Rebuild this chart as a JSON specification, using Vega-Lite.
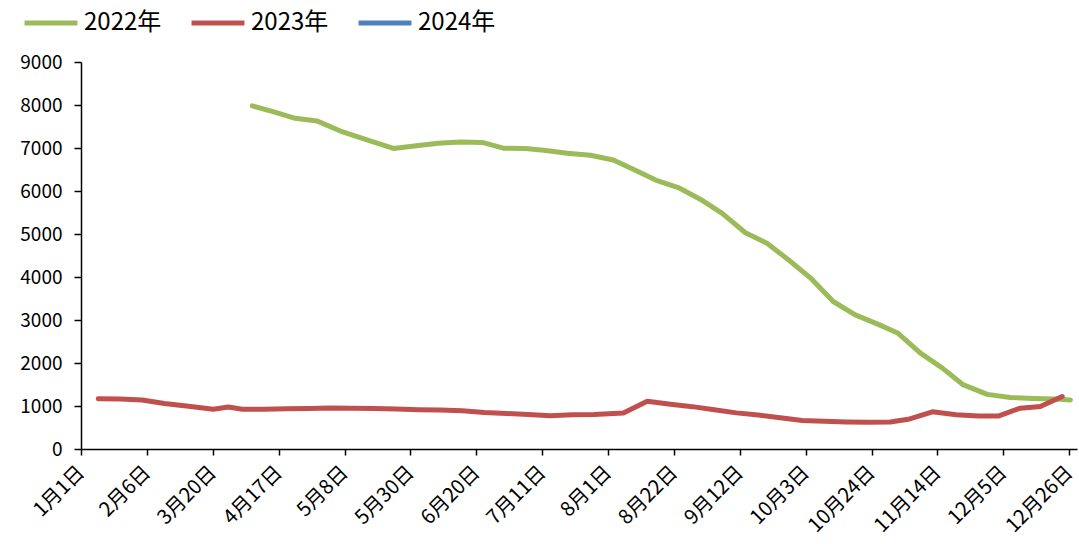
{
  "$schema": "https://vega.github.io/schema/vega-lite/v6.json",
  "autosize": {"type": "none"},
  "width": 996,
  "height": 387,
  "padding": {"left": 81, "top": 62, "right": 2, "bottom": 95},
  "background": "white",
  "config": {
    "view": {"stroke": null},
    "font": "Noto Sans CJK SC",
    "axis": {"labelFont": "Noto Sans CJK SC", "labelColor": "#000000", "domainColor": "#000000", "tickColor": "#000000", "domainWidth": 1.5, "tickWidth": 1.5, "grid": false}
  },
  "data": {
    "values": [
      {"series": "2022年", "t": 54.6, "value": 7980},
      {"series": "2022年", "t": 61.5, "value": 7840},
      {"series": "2022年", "t": 68.3, "value": 7690},
      {"series": "2022年", "t": 75.2, "value": 7630},
      {"series": "2022年", "t": 82.7, "value": 7395},
      {"series": "2022年", "t": 91.2, "value": 7190},
      {"series": "2022年", "t": 99.6, "value": 6990},
      {"series": "2022年", "t": 106.9, "value": 7050},
      {"series": "2022年", "t": 113.9, "value": 7110},
      {"series": "2022年", "t": 120.9, "value": 7140},
      {"series": "2022年", "t": 127.9, "value": 7130},
      {"series": "2022年", "t": 134.6, "value": 6995},
      {"series": "2022年", "t": 141.6, "value": 6990},
      {"series": "2022年", "t": 148.3, "value": 6940},
      {"series": "2022年", "t": 155.0, "value": 6880},
      {"series": "2022年", "t": 162.4, "value": 6830},
      {"series": "2022年", "t": 169.7, "value": 6720},
      {"series": "2022年", "t": 176.7, "value": 6480},
      {"series": "2022年", "t": 183.7, "value": 6240},
      {"series": "2022年", "t": 190.4, "value": 6080},
      {"series": "2022年", "t": 197.4, "value": 5810},
      {"series": "2022年", "t": 204.4, "value": 5480},
      {"series": "2022年", "t": 211.8, "value": 5030},
      {"series": "2022年", "t": 218.8, "value": 4780},
      {"series": "2022年", "t": 225.5, "value": 4400},
      {"series": "2022年", "t": 232.5, "value": 3980},
      {"series": "2022年", "t": 239.8, "value": 3430},
      {"series": "2022年", "t": 246.8, "value": 3120},
      {"series": "2022年", "t": 253.8, "value": 2910},
      {"series": "2022年", "t": 260.5, "value": 2690},
      {"series": "2022年", "t": 267.6, "value": 2230},
      {"series": "2022年", "t": 274.6, "value": 1880},
      {"series": "2022年", "t": 281.3, "value": 1490},
      {"series": "2022年", "t": 288.9, "value": 1270},
      {"series": "2022年", "t": 296.2, "value": 1200},
      {"series": "2022年", "t": 303.6, "value": 1175},
      {"series": "2022年", "t": 310.6, "value": 1160},
      {"series": "2022年", "t": 315.4, "value": 1140},
      {"series": "2023年", "t": 5.5, "value": 1170},
      {"series": "2023年", "t": 12.5, "value": 1160},
      {"series": "2023年", "t": 19.5, "value": 1140},
      {"series": "2023年", "t": 26.6, "value": 1060},
      {"series": "2023年", "t": 33.6, "value": 1000},
      {"series": "2023年", "t": 42.2, "value": 925},
      {"series": "2023年", "t": 47.0, "value": 975},
      {"series": "2023年", "t": 51.4, "value": 925},
      {"series": "2023年", "t": 58.4, "value": 925},
      {"series": "2023年", "t": 65.4, "value": 935},
      {"series": "2023年", "t": 72.5, "value": 940},
      {"series": "2023年", "t": 79.5, "value": 955},
      {"series": "2023年", "t": 86.5, "value": 945},
      {"series": "2023年", "t": 93.5, "value": 940},
      {"series": "2023年", "t": 100.5, "value": 930},
      {"series": "2023年", "t": 107.5, "value": 915},
      {"series": "2023年", "t": 114.5, "value": 905},
      {"series": "2023年", "t": 121.5, "value": 890},
      {"series": "2023年", "t": 128.6, "value": 850},
      {"series": "2023年", "t": 135.6, "value": 825},
      {"series": "2023年", "t": 142.6, "value": 805},
      {"series": "2023年", "t": 149.6, "value": 775},
      {"series": "2023年", "t": 156.6, "value": 795},
      {"series": "2023年", "t": 163.6, "value": 805},
      {"series": "2023年", "t": 172.9, "value": 840},
      {"series": "2023年", "t": 180.5, "value": 1110},
      {"series": "2023年", "t": 187.9, "value": 1040},
      {"series": "2023年", "t": 194.9, "value": 985},
      {"series": "2023年", "t": 201.9, "value": 915},
      {"series": "2023年", "t": 208.9, "value": 840},
      {"series": "2023年", "t": 215.9, "value": 790},
      {"series": "2023年", "t": 222.9, "value": 725},
      {"series": "2023年", "t": 229.9, "value": 665},
      {"series": "2023年", "t": 236.9, "value": 645},
      {"series": "2023年", "t": 244.0, "value": 630},
      {"series": "2023年", "t": 251.0, "value": 620},
      {"series": "2023年", "t": 258.0, "value": 630},
      {"series": "2023年", "t": 263.7, "value": 690},
      {"series": "2023年", "t": 271.4, "value": 865},
      {"series": "2023年", "t": 279.0, "value": 795},
      {"series": "2023年", "t": 286.0, "value": 765},
      {"series": "2023年", "t": 292.4, "value": 765},
      {"series": "2023年", "t": 299.4, "value": 950},
      {"series": "2023年", "t": 305.8, "value": 990},
      {"series": "2023年", "t": 312.8, "value": 1220}
    ]
  },
  "mark": {"type": "line", "strokeWidth": 5, "strokeCap": "round", "strokeJoin": "round"},
  "encoding": {
    "x": {
      "field": "t",
      "type": "quantitative",
      "scale": {"domain": [0, 317.5], "nice": false, "zero": false},
      "axis": {
        "title": null,
        "values": [0, 21, 42, 63, 84, 105, 126, 147, 168, 189, 210, 231, 252, 273, 294, 315],
        "labelExpr": "['1月1日','2月6日','3月20日','4月17日','5月8日','5月30日','6月20日','7月11日','8月1日','8月22日','9月12日','10月3日','10月24日','11月14日','12月5日','12月26日'][round(datum.value/21)]",
        "labelAngle": -45,
        "labelFontSize": 20,
        "labelAlign": "right",
        "labelBaseline": "middle",
        "labelPadding": 14,
        "tickSize": 6,
        "labelOverlap": false,
        "labelBound": false,
        "labelFlush": false
      }
    },
    "y": {
      "field": "value",
      "type": "quantitative",
      "scale": {"domain": [0, 9000], "nice": false},
      "axis": {
        "title": null,
        "format": "d",
        "values": [0, 1000, 2000, 3000, 4000, 5000, 6000, 7000, 8000, 9000],
        "labelFontSize": 19,
        "tickSize": 7,
        "labelPadding": 12
      }
    },
    "color": {
      "field": "series",
      "type": "nominal",
      "scale": {"domain": ["2022年", "2023年", "2024年"], "range": ["#9BBB59", "#C0504D", "#4F81BD"]},
      "legend": {
        "title": null,
        "orient": "none",
        "direction": "horizontal",
        "legendX": -59,
        "legendY": -68,
        "padding": 0,
        "symbolType": "stroke",
        "symbolSize": 2800,
        "symbolStrokeWidth": 5,
        "labelFontSize": 24,
        "labelFont": "Noto Sans CJK SC",
        "labelColor": "#000000",
        "labelOffset": 4,
        "columnPadding": 19,
        "symbolOffset": 0
      }
    }
  }
}
